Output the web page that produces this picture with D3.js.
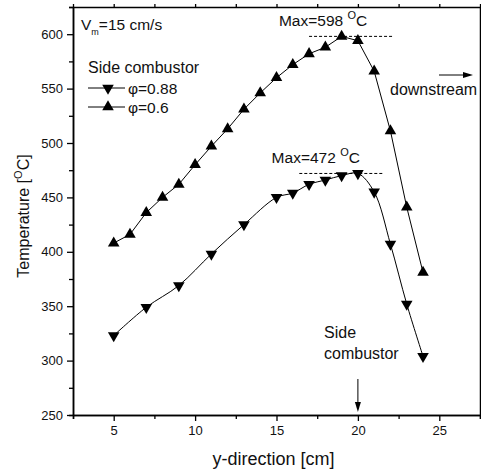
<!DOCTYPE html>
<html>
<head>
<meta charset="utf-8">
<script src="https://cdn.jsdelivr.net/npm/d3@7"></script>
<style>
  html, body { margin: 0; padding: 0; background: #fff; }
  svg { display: block; font-family: "Liberation Sans", Arial, sans-serif; }
</style>
</head>
<body>
<svg id="chart" width="481" height="474"></svg>
<script>
// Temperature along the channel for two equivalence ratios
const posHigh  = [5, 6, 7, 8, 9, 10, 11, 12, 13, 14, 15, 16, 17, 18, 19, 20, 21, 22, 23, 24];
const tempHigh = [408, 416, 436, 450, 462, 480, 497, 513, 531, 546, 560, 572, 582, 588, 598, 594, 566, 511, 441, 381];

const posLow  = [5, 7, 9, 11, 13, 15, 16, 17, 18, 19, 20, 21, 22, 23, 24];
const tempLow = [323, 349, 369, 398, 425, 450, 454, 462, 466, 470, 472, 455, 407, 352, 304];

const xTicks = [5, 10, 15, 20, 25];
const xMinor = [2.5, 7.5, 12.5, 17.5, 22.5, 27.5];
const yTicks = [250, 300, 350, 400, 450, 500, 550, 600];
const yMinor = [275, 325, 375, 425, 475, 525, 575, 625];

const seriesNames = ["\u03c6=0.88", "\u03c6=0.6"];
const sideCombustorPos = 20;

const svg = d3.select("#chart");
const L = 73, R = 480, T = 7, B = 415;

const x = d3.scaleLinear().domain([2.5, 27.5]).range([L, R]);
const y = d3.scaleLinear().domain([250, 625]).range([B, T]);

const axisStyle = g => {
  g.selectAll("path").attr("stroke", "#000").attr("stroke-width", 1.5);
  g.selectAll("line").attr("stroke", "#000").attr("stroke-width", 1.3);
  g.selectAll("text").attr("font-size", 13).attr("fill", "#111")
    .attr("font-family", "'Liberation Sans', Arial, sans-serif");
};

// bottom axis
svg.append("g").attr("transform", `translate(0,${B})`)
  .call(d3.axisBottom(x).tickValues(xMinor).tickSize(4).tickFormat(""))
  .call(axisStyle);
svg.append("g").attr("transform", `translate(0,${B})`)
  .call(d3.axisBottom(x).tickValues(xTicks).tickSize(6).tickSizeOuter(0).tickPadding(5).tickFormat(d3.format("d")))
  .call(axisStyle);

// left axis
svg.append("g").attr("transform", `translate(${L},0)`)
  .call(d3.axisLeft(y).tickValues(yMinor).tickSize(4).tickFormat(""))
  .call(axisStyle);
svg.append("g").attr("transform", `translate(${L},0)`)
  .call(d3.axisLeft(y).tickValues(yTicks).tickSize(6).tickSizeOuter(0).tickPadding(4).tickFormat(d3.format("d")))
  .call(axisStyle);

// top and right frame lines
svg.append("g").attr("transform", `translate(0,${T})`)
  .call(d3.axisTop(x).tickValues(xTicks.concat(xMinor)).tickSize(3).tickSizeOuter(0).tickFormat(""))
  .call(axisStyle);
svg.append("g").attr("transform", `translate(${R},0)`)
  .call(d3.axisRight(y).tickValues(yTicks.concat(yMinor)).tickSize(3).tickSizeOuter(0).tickFormat(""))
  .call(axisStyle);

// axis titles
svg.append("text")
  .attr("x", (L + R) / 2 - 3).attr("y", 465)
  .attr("text-anchor", "middle").attr("font-size", 18).attr("fill", "#111")
  .text("y-direction [cm]");

const yTitle = svg.append("text")
  .attr("transform", `translate(29,${(T + B) / 2 + 5}) rotate(-90)`)
  .attr("text-anchor", "middle").attr("font-size", 16).attr("fill", "#111");
yTitle.append("tspan").text("Temperature [");
yTitle.append("tspan").attr("font-size", 11).attr("dy", -7).text("O");
yTitle.append("tspan").attr("dy", 7).text("C]");

// series
const highPts = posHigh.map((p, i) => [p, tempHigh[i]]);
const lowPts = posLow.map((p, i) => [p, tempLow[i]]);

const lineLin = d3.line().x(d => x(d[0])).y(d => y(d[1]));
const lineSmooth = d3.line().curve(d3.curveCatmullRom.alpha(0.5)).x(d => x(d[0])).y(d => y(d[1]));

svg.append("path").datum(highPts).attr("d", lineLin)
  .attr("fill", "none").attr("stroke", "#000").attr("stroke-width", 1);
svg.append("path").datum(lowPts).attr("d", lineSmooth)
  .attr("fill", "none").attr("stroke", "#000").attr("stroke-width", 1);

const tri = d3.symbol(d3.symbolTriangle, 58);

svg.append("g").selectAll("path").data(highPts).join("path")
  .attr("d", tri)
  .attr("transform", d => `translate(${x(d[0])},${y(d[1])})`)
  .attr("fill", "#000");
svg.append("g").selectAll("path").data(lowPts).join("path")
  .attr("d", tri)
  .attr("transform", d => `translate(${x(d[0])},${y(d[1])}) rotate(180)`)
  .attr("fill", "#000");

// maximum markers
const maxHigh = d3.max(tempHigh), maxLow = d3.max(tempLow);
const dash = (x0, x1, v) => svg.append("line")
  .attr("x1", x(x0)).attr("x2", x(x1)).attr("y1", y(v)).attr("y2", y(v))
  .attr("stroke", "#000").attr("stroke-width", 1).attr("stroke-dasharray", "3,2");
dash(17, 22.1, maxHigh);
dash(16.4, 21.5, maxLow);

const maxLabel = (xp, v) => {
  const t = svg.append("text").attr("x", x(xp)).attr("y", y(v) - 10)
    .attr("font-size", 15.5).attr("fill", "#111");
  t.append("tspan").text(`Max=${v} `);
  t.append("tspan").attr("font-size", 11).attr("dy", -7).text("O");
  t.append("tspan").attr("dy", 7).text("C");
};
maxLabel(15.15, maxHigh);
maxLabel(14.7, maxLow);

// inlet velocity note
const vm = svg.append("text").attr("x", 81).attr("y", 30).attr("font-size", 15.5).attr("fill", "#111");
vm.append("tspan").text("V");
vm.append("tspan").attr("font-size", 9).attr("dy", 5).text("m");
vm.append("tspan").attr("dy", -5).text("=15 cm/s");

// legend
svg.append("text").attr("x", 88).attr("y", 73).attr("font-size", 16).attr("fill", "#111").text("Side combustor");
const legendRows = [{ name: seriesNames[0], rot: 180, cy: 88 }, { name: seriesNames[1], rot: 0, cy: 107 }];
legendRows.forEach(r => {
  svg.append("line").attr("x1", 88).attr("x2", 125).attr("y1", r.cy).attr("y2", r.cy)
    .attr("stroke", "#000").attr("stroke-width", 1);
  svg.append("path").attr("d", tri).attr("fill", "#000")
    .attr("transform", `translate(108,${r.cy}) rotate(${r.rot})`);
  svg.append("text").attr("x", 128).attr("y", r.cy + 5.5).attr("font-size", 15.5).attr("fill", "#111").text(r.name);
});

// flow direction
svg.append("line").attr("x1", 439).attr("x2", 466).attr("y1", 75).attr("y2", 75)
  .attr("stroke", "#000").attr("stroke-width", 1);
svg.append("path").attr("d", "M473,75 L463,72 L463,78 Z").attr("fill", "#000");
svg.append("text").attr("x", 390).attr("y", 95).attr("font-size", 16).attr("fill", "#111").text("downstream");

// side combustor location
const sx = x(sideCombustorPos);
svg.append("text").attr("x", 324).attr("y", 338).attr("font-size", 16).attr("fill", "#111").text("Side");
svg.append("text").attr("x", 324).attr("y", 359).attr("font-size", 16).attr("fill", "#111").text("combustor");
svg.append("line").attr("x1", sx).attr("x2", sx).attr("y1", 379).attr("y2", 404)
  .attr("stroke", "#000").attr("stroke-width", 1);
svg.append("path").attr("d", `M${sx},412 L${sx - 3},402 L${sx + 3},402 Z`).attr("fill", "#000");
</script>
</body>
</html>
